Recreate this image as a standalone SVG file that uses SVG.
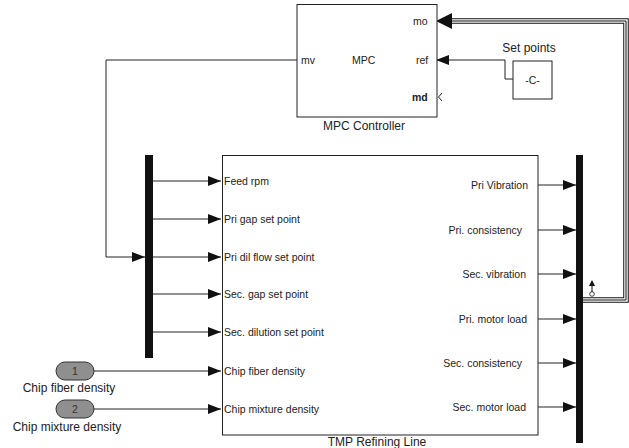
<svg xmlns="http://www.w3.org/2000/svg" width="629" height="448" viewBox="0 0 629 448">
<style>
text{font-family:"Liberation Sans",Arial,sans-serif;font-size:10.5px;fill:#222}
.lbl{font-size:12px}
.blk{fill:#fff;stroke:#222;stroke-width:1}
.ln{fill:none;stroke:#222;stroke-width:1}
.bus{fill:#111}
.c{text-anchor:middle}
.e{text-anchor:end}
.ah{fill:#111}
</style>
<defs>
<marker id="arr" markerWidth="13" markerHeight="10" refX="13" refY="5" orient="auto" markerUnits="userSpaceOnUse">
<path d="M0,0 L13,5 L0,10 Z" class="ah"/>
</marker>
</defs>
<rect width="629" height="448" fill="#fff"/>

<g id="connectors">
<path class="ln" d="M297,60 H106 V257 H145" marker-end="url(#arr)"/>
<path class="ln" d="M513,79 H505 V60 H436" marker-end="url(#arr)"/>
<path d="M583,300 H626 V21 H452" fill="none" stroke="#111" stroke-width="5.5"/>
<path d="M583,300 H626 V21 H452" fill="none" stroke="#fff" stroke-width="3.5"/>
<path d="M583,300 H626 V21 H452" fill="none" stroke="#111" stroke-width="1"/>
<path d="M452,13 L436,21 L452,29 Z" class="ah"/>
<path class="ln" d="M153,181 H221" marker-end="url(#arr)"/>
<path class="ln" d="M153,219 H221" marker-end="url(#arr)"/>
<path class="ln" d="M153,257 H221" marker-end="url(#arr)"/>
<path class="ln" d="M153,294 H221" marker-end="url(#arr)"/>
<path class="ln" d="M153,332 H221" marker-end="url(#arr)"/>
<path class="ln" d="M94,371 H221" marker-end="url(#arr)"/>
<path class="ln" d="M94,409 H221" marker-end="url(#arr)"/>
<path class="ln" d="M538,185 H576" marker-end="url(#arr)"/>
<path class="ln" d="M538,230 H576" marker-end="url(#arr)"/>
<path class="ln" d="M538,274 H576" marker-end="url(#arr)"/>
<path class="ln" d="M538,319 H576" marker-end="url(#arr)"/>
<path class="ln" d="M538,363 H576" marker-end="url(#arr)"/>
<path class="ln" d="M538,407 H576" marker-end="url(#arr)"/>
</g>

<g id="mpc">
<rect class="blk" x="297" y="4.5" width="140" height="112.5"/>
<text x="301" y="64">mv</text>
<text x="352" y="64">MPC</text>
<text x="413" y="25">mo</text>
<text x="416" y="64">ref</text>
<text x="412" y="101" style="font-weight:bold">md</text>
<path class="ln" d="M442,93 L438.5,97 L442,101" stroke-width="0.8"/>
<text class="c lbl" x="364" y="130">MPC Controller</text>
</g>

<g id="setpoints">
<rect class="blk" x="513" y="61" width="39" height="38"/>
<text class="c" x="532.5" y="84">-C-</text>
<text class="c lbl" x="529" y="52">Set points</text>
</g>

<g id="demux_in">
<rect class="bus" x="145" y="155" width="8" height="203"/>
</g>

<g id="tmp">
<rect class="blk" x="222.5" y="155.5" width="315.5" height="279.5"/>
<text x="224" y="185">Feed rpm</text>
<text x="224" y="223">Pri gap set point</text>
<text x="224" y="261">Pri dil flow set point</text>
<text x="224" y="298">Sec. gap set point</text>
<text x="224" y="336">Sec. dilution set point</text>
<text x="224" y="375">Chip fiber density</text>
<text x="224" y="413">Chip mixture density</text>
<text class="e" x="528" y="189">Pri Vibration</text>
<text class="e" x="522" y="234">Pri. consistency</text>
<text class="e" x="526" y="278">Sec. vibration</text>
<text class="e" x="527" y="323">Pri. motor load</text>
<text class="e" x="522" y="367">Sec. consistency</text>
<text class="e" x="526" y="411">Sec. motor load</text>
<text class="c lbl" x="377" y="446">TMP Refining Line</text>
</g>

<g id="bus_out">
<rect class="bus" x="576" y="155" width="7" height="288"/>
<line x1="592" y1="292" x2="592" y2="285" stroke="#111" stroke-width="1"/>
<path d="M589,286 L592,280 L595,286 Z" fill="#111"/>
<circle cx="592" cy="294" r="2.3" fill="#fff" stroke="#111" stroke-width="0.8"/>
</g>

<g id="in1">
<rect x="56" y="362" width="38" height="18" rx="9" ry="9" fill="#8f8f8f" stroke="#333" stroke-width="1"/>
<text class="c" x="75" y="375" style="fill:#333">1</text>
<text class="c lbl" x="69" y="392">Chip fiber density</text>
</g>

<g id="in2">
<rect x="56" y="400" width="38" height="18" rx="9" ry="9" fill="#8f8f8f" stroke="#333" stroke-width="1"/>
<text class="c" x="75" y="413" style="fill:#333">2</text>
<text class="c lbl" x="67" y="431">Chip mixture density</text>
</g>
</svg>
